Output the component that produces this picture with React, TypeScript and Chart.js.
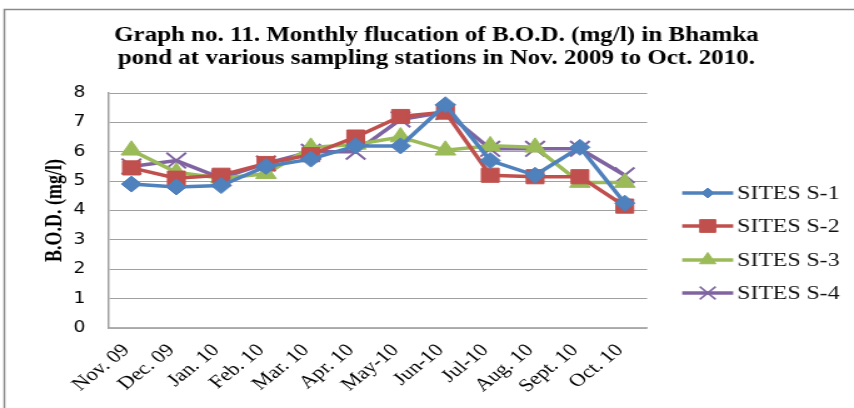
import React, { useEffect, useRef } from 'react';
import { Chart, registerables } from 'chart.js';
import { drawPoint } from 'chart.js/helpers';

Chart.register(...registerables);

const categories = ['Nov. 09', 'Dec. 09', 'Jan. 10', 'Feb. 10', 'Mar. 10', 'Apr. 10', 'May-10', 'Jun-10', 'Jul-10', 'Aug. 10', 'Sept. 10', 'Oct. 10'];
const seriesNames = ['SITES S-1', 'SITES S-2', 'SITES S-3', 'SITES S-4'];
const siteS1 = [4.9, 4.8, 4.85, 5.5, 5.75, 6.2, 6.2, 7.6, 5.7, 5.2, 6.15, 4.25];
const siteS2 = [5.45, 5.1, 5.2, 5.6, 5.9, 6.5, 7.2, 7.35, 5.2, 5.15, 5.15, 4.15];
const siteS3 = [6.05, 5.3, 5.1, 5.25, 6.15, 6.25, 6.5, 6.05, 6.2, 6.15, 4.95, 4.95];
const siteS4 = [5.5, 5.7, 5.1, 5.6, 6.0, 6.0, 7.1, 7.35, 6.1, 6.1, 6.1, 5.2];
const yMin = 0;
const yMax = 8;
const yStep = 1;
const titleLines = [
  'Graph no. 11. Monthly flucation of B.O.D. (mg/l) in Bhamka',
  'pond at various sampling stations in Nov. 2009 to Oct. 2010.',
];
const yAxisTitle = 'B.O.D. (mg/l)';

const colors = ['#4F81BD', '#C0504D', '#9BBB59', '#8064A2'];
const pointStyles = ['rectRot', 'rect', 'triangle', 'crossRot'];
const pointRadii = [8, 10, 9.5, 11];
const legendRadii = [5, 9, 7.5, 9];

// The reference is horizontally stretched; draw on a narrower canvas shown at full width.
const DISPLAY_W = 854;
const DISPLAY_H = 408;
const STRETCH = 1.25;
const W = Math.round(DISPLAY_W / STRETCH);
const H = DISPLAY_H;

const decorPlugin = {
  id: 'decor',
  beforeDraw(chart: any) {
    const ctx = chart.ctx;
    ctx.save();
    ctx.fillStyle = '#ffffff';
    ctx.fillRect(0, 0, chart.width, chart.height);
    ctx.restore();
  },
  afterDraw(chart: any) {
    const ctx = chart.ctx;
    ctx.save();
    // outer frame
    ctx.strokeStyle = '#8a8a8a';
    ctx.lineWidth = 1.5;
    ctx.strokeRect(3.5, 9.5, chart.width + 20, chart.height + 20);
    // title
    ctx.fillStyle = '#000';
    ctx.font = 'bold 20px "Liberation Serif", "Times New Roman", serif';
    ctx.textAlign = 'center';
    ctx.textBaseline = 'alphabetic';
    ctx.fillText(titleLines[0], 349, 41);
    ctx.fillText(titleLines[1], 349, 63.5);
    // y title
    const area = chart.chartArea;
    ctx.save();
    ctx.translate(44.5, (area.top + area.bottom) / 2);
    ctx.rotate(-Math.PI / 2);
    ctx.font = 'bold 18px "Liberation Serif", "Times New Roman", serif';
    ctx.textAlign = 'center';
    ctx.textBaseline = 'middle';
    ctx.fillText(yAxisTitle, 0, 0);
    ctx.restore();
    // legend
    const legendY = [193, 226, 260, 293];
    const x0 = 682 / STRETCH;
    const x1 = 733 / STRETCH;
    seriesNames.forEach((name, i) => {
      const y = legendY[i];
      ctx.strokeStyle = colors[i];
      ctx.lineWidth = 3.5;
      ctx.beginPath();
      ctx.moveTo(x0, y);
      ctx.lineTo(x1, y);
      ctx.stroke();
      ctx.fillStyle = colors[i];
      ctx.strokeStyle = colors[i];
      ctx.lineWidth = i === 3 ? 1.5 : 1;
      drawPoint(ctx, { pointStyle: pointStyles[i], rotation: 0, radius: legendRadii[i], borderWidth: ctx.lineWidth } as any, (x0 + x1) / 2, y);
      ctx.fillStyle = '#111';
      ctx.font = '19px "Liberation Serif", "Times New Roman", serif';
      ctx.textAlign = 'left';
      ctx.textBaseline = 'middle';
      ctx.fillText(name, 737 / STRETCH, y + 1);
    });
    ctx.restore();
  },
};

export default function App() {
  const canvasRef = useRef<HTMLCanvasElement | null>(null);

  useEffect(() => {
    document.body.style.margin = '0';
    const canvas = canvasRef.current;
    if (!canvas) return;
    const series = [siteS1, siteS2, siteS3, siteS4];
    const chart = new Chart(canvas, {
      type: 'line',
      data: {
        labels: categories,
        datasets: series.map((values, i) => ({
          label: seriesNames[i],
          data: values,
          borderColor: colors[i],
          backgroundColor: colors[i],
          borderWidth: 3.5,
          pointStyle: pointStyles[i] as any,
          pointRadius: pointRadii[i],
          pointHoverRadius: pointRadii[i],
          pointBorderWidth: i === 3 ? 2 : 1,
          pointBorderColor: colors[i],
          pointBackgroundColor: colors[i],
          tension: 0,
          fill: false,
        })),
      },
      options: {
        responsive: false,
        animation: false,
        devicePixelRatio: 1,
        layout: { padding: { left: 0, top: 93, right: W - 647 / STRETCH, bottom: 0 } },
        plugins: {
          legend: { display: false },
          title: { display: false },
          tooltip: { enabled: false },
        },
        scales: {
          x: {
            type: 'category',
            offset: true,
            grid: { display: false, drawTicks: false },
            border: { display: true, color: '#b0b0b0', width: 1.5 },
            ticks: {
              autoSkip: false,
              minRotation: 45,
              maxRotation: 45,
              padding: 12,
              labelOffset: -4,
              color: '#000',
              font: { family: '"Liberation Serif", "Times New Roman", serif', size: 18 },
            },
            afterFit: (scale: any) => {
              scale.height = H - 328;
            },
          },
          y: {
            min: yMin,
            max: yMax,
            grid: { color: '#a0a0a0', lineWidth: 1, drawTicks: false },
            border: { display: true, color: '#a0a0a0', width: 1.5 },
            ticks: {
              stepSize: yStep,
              padding: 19,
              color: '#000',
              font: { family: '"DejaVu Sans", sans-serif', size: 15 },
            },
            afterFit: (scale: any) => {
              scale.width = 109 / STRETCH;
            },
          },
        },
      },
      plugins: [decorPlugin],
    });
    return () => {
      chart.destroy();
    };
  }, []);

  return (
    <canvas
      ref={canvasRef}
      width={W}
      height={H}
      style={{ width: DISPLAY_W + 'px', height: DISPLAY_H + 'px', display: 'block' }}
    />
  );
}
